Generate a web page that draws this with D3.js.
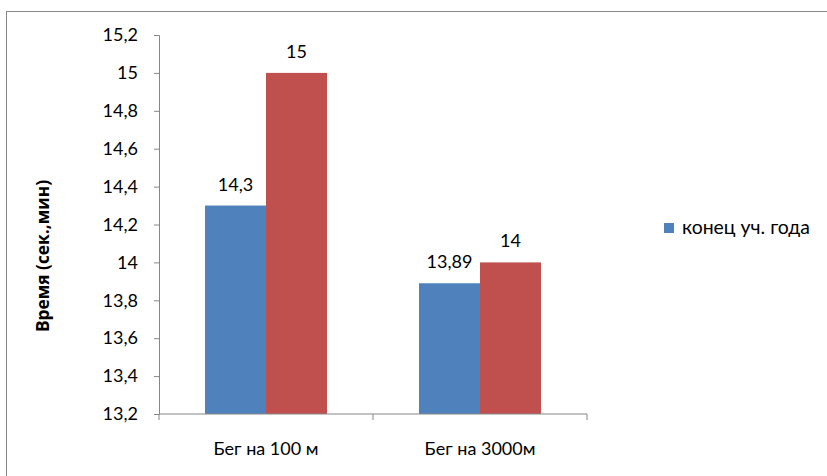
<!DOCTYPE html>
<html><head><meta charset="utf-8">
<script src="https://cdn.jsdelivr.net/npm/d3@7"></script>
<style>body{margin:0;background:#fff}svg{display:block}text{font-family:Lato,"Open Sans",sans-serif;fill:#000}</style>
</head><body><svg width="827" height="476"></svg>
<script>
const categories = ["Бег на 100 м", "Бег на 3000м"];
const seriesNames = ["конец уч. года", "начало уч. года"];
const seriesColors = ["#4F81BD", "#C0504D"];
const valuesBlue = [14.3, 13.89];
const valuesRed = [15, 14];
const valueLabels = [["14,3", "13,89"], ["15", "14"]];
const yTicks = [13.2, 13.4, 13.6, 13.8, 14, 14.2, 14.4, 14.6, 14.8, 15, 15.2];
const yTitle = "Время (сек.,мин)";
const legendShown = [0];

const svg = d3.select("svg");
svg.append("rect").attr("x", 6.5).attr("y", 11.5).attr("width", 900).attr("height", 600)
  .attr("fill", "none").attr("stroke", "#888").attr("stroke-width", 1);

const x0 = 159, x1 = 587, yTop = 35, yBot = 414;
const x = d3.scaleBand().domain(categories).range([x0, x1]).paddingInner(0.43).paddingOuter(0.215);
const xs = d3.scaleBand().domain([0, 1]).range([0, x.bandwidth()]);
const y = d3.scaleLinear().domain([13.2, 15.2]).range([yBot, yTop]);
const fmt = v => String(+v.toFixed(1)).replace(".", ",");

const series = [valuesBlue, valuesRed];
series.forEach((vals, si) => {
  svg.append("g").selectAll("rect").data(vals).join("rect")
    .attr("x", (d, i) => x(categories[i]) + xs(si))
    .attr("y", d => y(d))
    .attr("width", xs.bandwidth())
    .attr("height", d => yBot - y(d))
    .attr("fill", seriesColors[si]);
  svg.append("g").selectAll("text").data(vals).join("text")
    .attr("x", (d, i) => x(categories[i]) + xs(si) + xs.bandwidth() / 2)
    .attr("y", d => y(d) - 15)
    .attr("text-anchor", "middle").attr("font-size", 18)
    .text((d, i) => valueLabels[si][i]);
});

const yAxis = svg.append("g").attr("transform", `translate(${x0},0)`)
  .call(d3.axisLeft(y).tickValues(yTicks).tickSize(5).tickPadding(16).tickFormat(fmt));
yAxis.selectAll("text").attr("font-size", 18).style("font-family", "Lato,'Open Sans',sans-serif").attr("fill", "#000");
yAxis.selectAll("line,path").attr("stroke", "#868686");

const xEdges = [x0, ...categories.slice(1).map(c => x(c) - x.step() * 0.43 / 2), x1];
const xAxis = svg.append("g").attr("transform", `translate(0,${yBot})`);
xAxis.append("line").attr("x1", x0).attr("x2", x1).attr("stroke", "#868686");
xAxis.selectAll("line.t").data(xEdges).join("line").attr("class", "t")
  .attr("x1", d => d).attr("x2", d => d).attr("y1", 0).attr("y2", 6).attr("stroke", "#868686");
xAxis.selectAll("text").data(categories).join("text")
  .attr("x", d => x(d) + x.bandwidth() / 2).attr("y", 41)
  .attr("text-anchor", "middle").attr("font-size", 18).text(d => d);

svg.append("text").attr("transform", "translate(49,256) rotate(-90)")
  .attr("text-anchor", "middle").attr("font-size", 18).attr("font-weight", "bold")
  .style("font-family", "'Open Sans',Lato,sans-serif")
  .attr("textLength", 152).attr("lengthAdjust", "spacingAndGlyphs").text(yTitle);

const lg = svg.append("g").selectAll("g").data(legendShown).join("g")
  .attr("transform", (d, i) => `translate(664,${223 + i * 22})`);
lg.append("rect").attr("width", 10).attr("height", 10).attr("fill", d => seriesColors[d]);
lg.append("text").attr("x", 18).attr("y", 11).attr("font-size", 19)
  .attr("textLength", 128).attr("lengthAdjust", "spacingAndGlyphs").text(d => seriesNames[d]);
</script></body></html>
